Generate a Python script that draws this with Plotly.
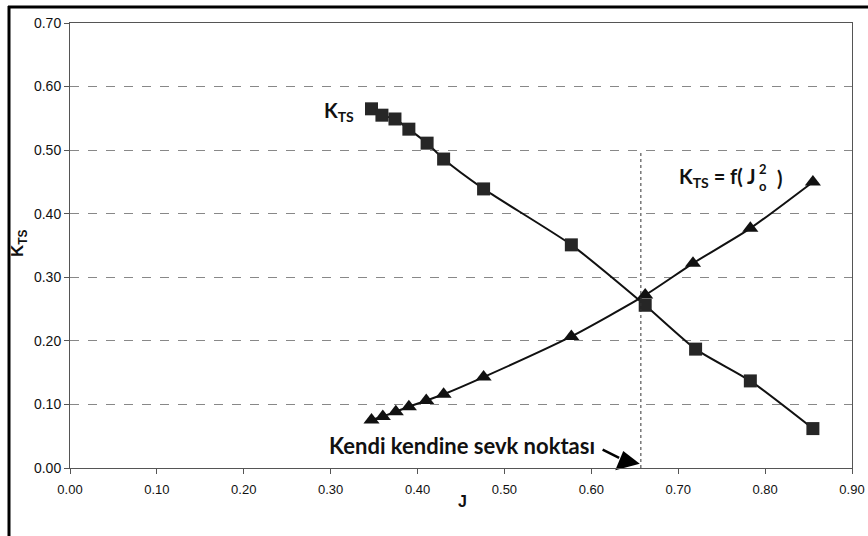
import plotly.graph_objects as go

# Data
J_kts = [0.347, 0.359, 0.374, 0.390, 0.411, 0.430, 0.476, 0.577, 0.662, 0.720, 0.783, 0.855]
K_kts = [0.565, 0.555, 0.549, 0.533, 0.511, 0.486, 0.439, 0.351, 0.256, 0.187, 0.137, 0.062]

J_f = [0.347, 0.360, 0.375, 0.390, 0.410, 0.430, 0.476, 0.577, 0.662, 0.717, 0.783, 0.855]
K_f = [0.0755, 0.081, 0.0886, 0.0965, 0.106, 0.116, 0.143, 0.207, 0.272, 0.322, 0.377, 0.450]

J_self = [0.640]
K_self = [0.010]

J_vline = 0.657

x_ticks = [0.0, 0.1, 0.2, 0.3, 0.4, 0.5, 0.6, 0.7, 0.8, 0.9]
y_ticks = [0.0, 0.1, 0.2, 0.3, 0.4, 0.5, 0.6, 0.7]

W, H = 868, 536
L, R, T, B = 70, 852, 23, 468


def px(x):
    return (x - L) / (R - L)


def py(y):
    return (B - y) / (B - T)


fig = go.Figure()
fig.add_trace(go.Scatter(
    x=J_kts, y=K_kts, mode="lines+markers",
    line=dict(color="#111111", width=2, shape="spline", smoothing=0.6),
    marker=dict(symbol="square", size=13, color="#262626"),
    showlegend=False, hoverinfo="x+y"))
fig.add_trace(go.Scatter(
    x=J_f, y=K_f, mode="lines+markers",
    line=dict(color="#111111", width=2, shape="spline", smoothing=0.6),
    marker=dict(symbol="triangle-up", size=14, color="#111111"),
    showlegend=False, hoverinfo="x+y"))
fig.add_trace(go.Scatter(
    x=J_self, y=K_self, mode="markers", cliponaxis=False,
    marker=dict(symbol="triangle-up", size=22, color="#000000", angle=-15),
    showlegend=False, hoverinfo="x+y"))

# vertical dotted line
fig.add_shape(type="line", xref="x", yref="y", x0=J_vline, x1=J_vline, y0=0, y1=0.5,
              line=dict(color="#333333", width=1, dash="dot"))
# arrow stem to the self-propulsion point
fig.add_shape(type="line", xref="x", yref="y", x0=0.613, y0=0.029, x1=0.632, y1=0.016,
              line=dict(color="#000000", width=2.5))

# outer frame (left & top)
fig.add_shape(type="line", xref="paper", yref="paper", x0=px(9), x1=px(9), y0=py(6), y1=py(540),
              line=dict(color="#000000", width=3))
fig.add_shape(type="line", xref="paper", yref="paper", x0=px(8), x1=px(870), y0=py(7), y1=py(7),
              line=dict(color="#000000", width=3))

ann = []
ann.append(dict(text="Kendi kendine sevk noktası", x=px(462), y=py(461), xref="paper", yref="paper",
                showarrow=False, font=dict(family="Lato, sans-serif", size=22, color="#111111", weight="bold")))
ann.append(dict(text="K<sub>TS</sub>", x=px(339), y=py(96), xref="paper", yref="paper",
                showarrow=False, font=dict(family="Lato, sans-serif", size=20, color="#111111", weight="bold")))
ann.append(dict(text="K<sub>TS</sub> = f( J", x=px(757), y=py(178), xref="paper", yref="paper",
                xanchor="right", showarrow=False, borderpad=0,
                font=dict(family="Lato, sans-serif", size=20, color="#111111", weight="bold")))
ann.append(dict(text="2<br>o", x=px(768), y=py(177), xref="paper", yref="paper",
                showarrow=False, borderpad=0,
                font=dict(family="Lato, sans-serif", size=13, color="#111111", weight="bold")))
ann.append(dict(text=")", x=px(776), y=py(178), xref="paper", yref="paper",
                xanchor="left", showarrow=False, borderpad=0,
                font=dict(family="Lato, sans-serif", size=20, color="#111111", weight="bold")))
# axis titles
ann.append(dict(text="K<sub>TS</sub>", x=px(6), y=py(243), xref="paper", yref="paper",
                textangle=-90, showarrow=False,
                font=dict(family="Liberation Sans, Arial, sans-serif", size=17, color="#111111", weight="bold")))
ann.append(dict(text="J", x=px(462), y=py(512), xref="paper", yref="paper",
                showarrow=False,
                font=dict(family="Liberation Sans, Arial, sans-serif", size=16, color="#111111", weight="bold")))

fig.update_layout(
    width=W, height=H,
    margin=dict(l=L, r=W - R, t=T, b=H - B),
    paper_bgcolor="white", plot_bgcolor="white",
    annotations=ann,
    font=dict(family="Liberation Sans, Arial, sans-serif", size=13, color="#111111"),
)
fig.update_xaxes(range=[0, 0.9], tickvals=x_ticks, ticktext=[f"{v:.2f}" for v in x_ticks],
                 showgrid=False, zeroline=False, showline=True, linecolor="#555555", linewidth=1,
                 mirror=True, ticks="outside", ticklen=5, tickcolor="#555555", automargin=False,
                 ticklabelstandoff=4, tickfont=dict(size=13), fixedrange=True)
fig.update_yaxes(range=[0, 0.7], tickvals=y_ticks, ticktext=[f"{v:.2f}" for v in y_ticks],
                 showgrid=True, gridcolor="#888888", griddash="dash", gridwidth=1,
                 zeroline=False, showline=True, linecolor="#555555", linewidth=1, automargin=False,
                 mirror=True, ticks="outside", ticklen=5, tickcolor="#555555",
                 tickfont=dict(size=14), fixedrange=True)

fig.write_html("out.html")
